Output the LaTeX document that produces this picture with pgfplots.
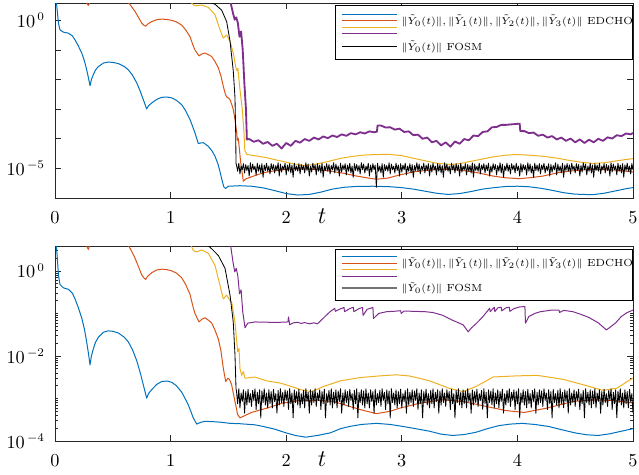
\documentclass[border=0pt]{standalone}
\usepackage{pgfplots}
\pgfplotsset{compat=1.18}
\definecolor{cB}{rgb}{0,0.447,0.741}
\definecolor{cO}{rgb}{0.850,0.325,0.098}
\definecolor{cY}{rgb}{0.929,0.694,0.125}
\definecolor{cP}{rgb}{0.494,0.184,0.556}
\begin{document}
\begin{tikzpicture}
\path[use as bounding box] (-33pt,-165.6pt) rectangle (350.4pt,118.8pt);
% ================= TOP =================
\begin{axis}[at={(0pt,0pt)}, anchor=south west,
    scale only axis, width=346.8pt, height=117pt,
    xmin=0, xmax=5, xtick={0,1,2,3,4,5}, ymode=log, ymin=1e-6, ymax=3.85,
    ytick={1e-5,1e-4,1e-3,1e-2,1e-1,1}, yticklabels={$10^{\,-5}$,,,,,$10^{\,0}$}, yminorticks=false,
    tick align=inside,
    axis line style={black!85, line width=0.5pt},
    tick style={black!85, line width=0.4pt},
    major tick length=3.6pt, minor tick length=1.8pt,
    tick label style={font=\fontsize{10.5}{12}\selectfont},
    xticklabel style={yshift=-5pt},
    yticklabel style={xshift=-2.5pt},
    xlabel={$t$},
    xlabel style={at={(rel axis cs:0.462,0)}, anchor=center, yshift=-11pt, font=\fontsize{14}{16}\selectfont},
    every axis plot/.append style={line width=0.6pt, line join=round}]
% blue
\addplot[cB] coordinates {(0,6.3)(0.015,3.16)(0.03,0.79)(0.043,0.48)(0.072,0.40)(0.115,0.37)(0.15,0.30)(0.173,0.22)(0.2,0.141)(0.231,0.079)(0.255,0.042)(0.274,0.0214)(0.29,0.0112)(0.303,0.0062)(0.315,0.010)(0.331,0.0145)(0.35,0.0209)(0.375,0.0275)(0.42,0.0363)(0.461,0.0389)(0.5,0.038)(0.548,0.0347)(0.6,0.0275)(0.634,0.0214)(0.67,0.0141)(0.707,0.00776)(0.74,0.0038)(0.764,0.00209)(0.793,0.00102)(0.81,0.00132)(0.837,0.00162)(0.88,0.00214)(0.923,0.00251)(0.97,0.00257)(1.01,0.0024)(1.05,0.002)(1.096,0.00141)
(1.13,8.9e-4)(1.168,4.5e-4)(1.211,1.58e-4)(1.24,6.9e-5)(1.26,7.2e-5)(1.283,7.4e-5)(1.326,5.6e-5)(1.36,3.8e-5)(1.384,2.57e-5)(1.41,1.41e-5)(1.427,7.9e-6)(1.445,4.0e-6)(1.46,2.4e-6)(1.475,2.1e-6)(1.5,2.5e-6)(1.6,2.6e-6)(1.7,2.5e-6)(1.8,2.2e-6)(1.9,1.78e-6)(2.0,1.41e-6)(2.1,1.26e-6)(2.2,1.32e-6)(2.3,1.58e-6)(2.4,2.0e-6)(2.5,2.3e-6)(2.6,2.45e-6)(2.75,2.5e-6)(2.9,2.4e-6)(3.0,2.24e-6)(3.1,2.0e-6)(3.2,1.7e-6)(3.3,1.45e-6)(3.4,1.32e-6)(3.5,1.41e-6)(3.6,1.66e-6)(3.7,2.0e-6)(3.8,2.24e-6)(3.9,2.45e-6)(4.0,2.5e-6)(4.1,2.4e-6)(4.2,2.14e-6)(4.3,1.82e-6)(4.4,1.51e-6)(4.5,1.35e-6)(4.65,1.29e-6)(4.75,1.45e-6)(4.85,1.74e-6)(4.95,2.1e-6)(5.0,2.24e-6)};
% orange
\addplot[cO] coordinates {(0,31.6)(0.2,7.9)(0.26,4.5)(0.288,3.2)(0.31,4.5)(0.36,7.1)(0.5,8.0)(0.6,5.6)(0.634,4.0)(0.66,3.0)(0.692,2.0)(0.72,1.3)(0.75,0.81)(0.77,0.68)(0.785,0.63)(0.8,0.74)(0.837,0.91)(0.88,1.05)(0.923,1.10)(0.97,1.07)(1.01,1.0)(1.05,0.89)(1.096,0.69)(1.13,0.48)(1.168,0.28)(1.195,0.14)(1.211,0.10)(1.246,0.063)(1.27,0.073)(1.298,0.079)(1.325,0.07)(1.355,0.06)(1.385,0.04)(1.413,0.025)(1.435,0.0135)
(1.456,0.0059)(1.475,0.0031)(1.485,0.0026)(1.5,0.0024)(1.514,0.0021)(1.53,0.0014)(1.542,9.8e-4)(1.557,4.5e-4)(1.572,1.6e-4)(1.577,8.9e-5)(1.585,1.05e-4)(1.594,5.0e-5)(1.605,1.78e-5)(1.615,9.3e-6)(1.629,3.7e-6)(1.65,4.4e-6)(1.7,5.2e-6)(1.8,7.1e-6)(1.9,8.3e-6)(2.0,9.3e-6)(2.1,9.8e-6)(2.2,9.5e-6)(2.3,8.9e-6)(2.4,7.9e-6)(2.5,6.8e-6)(2.6,5.6e-6)(2.7,4.8e-6)(2.78,4.3e-6)(2.88,4.7e-6)(2.98,6.0e-6)(3.1,7.6e-6)(3.2,8.5e-6)(3.3,9.1e-6)(3.42,9.3e-6)(3.55,8.3e-6)(3.65,7.2e-6)(3.79,5.5e-6)(3.9,4.8e-6)(4.02,4.5e-6)(4.12,4.9e-6)(4.22,5.5e-6)(4.35,7.1e-6)(4.45,8.1e-6)(4.6,9.1e-6)(4.68,9.3e-6)(4.85,8.7e-6)(5.0,7.6e-6)};
% yellow
\addplot[cY] coordinates {(0,100)(1.1,10)(1.168,4.5)(1.197,3.3)(1.226,3.1)(1.269,3.3)(1.326,2.75)(1.384,1.55)(1.427,0.48)(1.456,0.25)(1.485,0.32)(1.514,0.195)(1.542,0.079)(1.565,0.025)(1.575,0.02)(1.582,0.024)(1.6,0.0046)(1.62,0.001)(1.635,1.6e-4)(1.642,4.0e-5)(1.66,2.95e-5)(1.75,2.6e-5)(1.83,2.3e-5)(1.92,1.9e-5)(2.0,1.62e-5)(2.08,1.38e-5)(2.15,1.26e-5)(2.22,1.32e-5)(2.29,1.48e-5)(2.38,1.78e-5)(2.47,2.19e-5)(2.55,2.45e-5)(2.64,2.75e-5)(2.72,2.88e-5)(2.81,2.95e-5)(2.9,2.95e-5)(3.0,2.7e-5)(3.1,2.2e-5)(3.21,1.78e-5)(3.3,1.5e-5)(3.42,1.35e-5)(3.5,1.45e-5)(3.56,1.62e-5)(3.65,1.9e-5)(3.79,2.45e-5)(3.9,2.8e-5)(3.99,2.95e-5)(4.1,2.8e-5)(4.22,2.57e-5)(4.35,2.2e-5)(4.45,1.86e-5)(4.55,1.62e-5)(4.65,1.48e-5)(4.75,1.55e-5)(4.85,1.78e-5)(4.92,1.95e-5)(5.0,2.14e-5)};
% purple
\addplot[cP, line width=1.1pt] coordinates {(0,100)(1.4,20)(1.5,5)(1.52,3.8)(1.54,1.74)(1.555,1.05)(1.568,1.26)(1.582,0.81)(1.596,0.28)(1.61,0.42)(1.624,0.10)(1.638,7.8e-3)(1.652,9.8e-4)(1.66,9.5e-5)
(1.68,9.8e-5)(1.72,7.9e-5)(1.76,8.9e-5)(1.80,6.8e-5)(1.84,7.8e-5)(1.88,5.8e-5)(1.92,6.8e-5)(1.96,4.7e-5)(2.00,7.2e-5)(2.04,5.8e-5)(2.08,8.5e-5)(2.12,7.4e-5)(2.16,9.8e-5)(2.20,8.5e-5)(2.24,1.1e-4)(2.28,9.5e-5)(2.32,1.2e-4)(2.36,1.05e-4)(2.40,1.29e-4)(2.44,1.15e-4)(2.48,1.41e-4)(2.52,1.26e-4)(2.56,1.55e-4)(2.60,1.41e-4)(2.64,1.66e-4)(2.68,1.51e-4)(2.72,1.78e-4)(2.76,1.66e-4)(2.785,1.74e-4)(2.79,2.8e-4)(2.82,2.8e-4)(2.86,2.4e-4)(2.90,2.45e-4)(2.94,2.04e-4)(2.98,2.2e-4)(3.02,1.7e-4)(3.06,1.78e-4)(3.10,1.32e-4)(3.14,1.38e-4)(3.18,1.0e-4)(3.22,1.1e-4)(3.26,7.6e-5)(3.30,8.5e-5)(3.34,6.0e-5)(3.38,7.6e-5)(3.42,5.4e-5)(3.46,8.1e-5)(3.50,6.8e-5)(3.54,9.8e-5)(3.58,8.9e-5)(3.62,1.29e-4)(3.66,1.23e-4)(3.70,1.7e-4)(3.74,1.78e-4)(3.78,2.45e-4)(3.82,2.5e-4)(3.86,2.95e-4)(3.90,2.95e-4)(3.96,3.1e-4)(4.02,3.24e-4)(4.025,1.82e-4)(4.06,1.82e-4)(4.10,1.55e-4)(4.14,1.62e-4)(4.18,1.26e-4)(4.22,1.38e-4)(4.26,1.1e-4)(4.30,1.23e-4)(4.34,9.5e-5)(4.38,1.1e-4)(4.42,8.5e-5)(4.46,1.02e-4)(4.50,7.6e-5)(4.54,9.5e-5)(4.58,7.2e-5)(4.62,9.3e-5)(4.66,7.6e-5)(4.70,1.0e-4)(4.74,8.5e-5)(4.78,1.12e-4)(4.82,1.02e-4)(4.86,1.32e-4)(4.90,1.23e-4)(4.94,1.51e-4)(4.98,1.41e-4)(5.0,1.58e-4)};
% black FOSM
\addplot[black, line width=0.5pt] coordinates {(0,1000)(1.0,30)(1.2,8)(1.283,4.9)(1.384,3.5)(1.442,2.2)(1.485,0.9)(1.514,0.2)(1.542,0.02)(1.557,0.0025)(1.563,1.6e-4)(1.566,1.5e-5)
(1.57,1.3e-5)(1.58,8e-6)(1.59,1.5e-5)(1.60,6.5e-6)(1.61,1.2e-5)(1.62,9e-6)(1.63,1.45e-5)(1.64,7e-6)(1.65,1.35e-5)(1.66,8.5e-6)(1.67,1.25e-5)(1.68,5.5e-6)(1.69,1.55e-5)(1.70,7.5e-6)(1.71,1.4e-5)(1.72,9e-6)(1.73,1.2e-5)(1.74,6e-6)(1.75,1.5e-5)(1.76,8e-6)(1.77,1.3e-5)(1.78,7e-6)(1.79,1.45e-5)(1.80,5e-6)
(1.81,1.3e-5)(1.82,8.5e-6)(1.83,1.5e-5)(1.84,8e-6)(1.85,1.2e-5)(1.86,6.5e-6)(1.87,1.45e-5)(1.88,9e-6)(1.89,1.35e-5)(1.90,7e-6)(1.91,1.25e-5)(1.92,8.5e-6)(1.93,1.55e-5)(1.94,5.5e-6)(1.95,1.4e-5)(1.96,7.5e-6)(1.97,1.2e-5)(1.98,9e-6)(1.99,1.5e-5)(2.00,6e-6)(2.01,1.3e-5)(2.02,8e-6)(2.03,1.45e-5)(2.04,7e-6)
(2.05,1.3e-5)(2.06,5e-6)(2.07,1.5e-5)(2.08,8.5e-6)(2.09,1.2e-5)(2.10,8e-6)(2.11,1.45e-5)(2.12,6.5e-6)(2.13,1.35e-5)(2.14,9e-6)(2.15,1.25e-5)(2.16,7e-6)(2.17,1.55e-5)(2.18,8.5e-6)(2.19,1.4e-5)(2.20,5.5e-6)(2.21,1.2e-5)(2.22,7.5e-6)(2.23,1.5e-5)(2.24,9e-6)(2.25,1.3e-5)(2.26,6e-6)(2.27,1.45e-5)(2.28,8e-6)
(2.29,1.3e-5)(2.30,7e-6)(2.31,1.5e-5)(2.32,5e-6)(2.33,1.2e-5)(2.34,8.5e-6)(2.35,1.45e-5)(2.36,8e-6)(2.37,1.35e-5)(2.38,6.5e-6)(2.39,1.25e-5)(2.40,9e-6)(2.41,1.55e-5)(2.42,7e-6)(2.43,1.4e-5)(2.44,8.5e-6)(2.45,1.2e-5)(2.46,5.5e-6)(2.47,1.5e-5)(2.48,7.5e-6)(2.49,1.3e-5)(2.50,9e-6)(2.51,1.45e-5)(2.52,6e-6)
(2.53,1.3e-5)(2.54,8e-6)(2.55,1.5e-5)(2.56,7e-6)(2.57,1.2e-5)(2.58,5e-6)(2.59,1.45e-5)(2.60,8.5e-6)(2.61,1.35e-5)(2.62,8e-6)(2.63,1.25e-5)(2.64,6.5e-6)(2.65,1.55e-5)(2.66,9e-6)(2.67,1.4e-5)(2.68,7e-6)(2.69,1.2e-5)(2.70,8.5e-6)(2.71,1.5e-5)(2.72,5.5e-6)(2.73,1.3e-5)(2.74,7.5e-6)(2.75,1.45e-5)(2.76,9e-6)
(2.77,1.3e-5)(2.78,2.3e-6)(2.79,1.5e-5)(2.80,8e-6)(2.81,1.2e-5)(2.82,7e-6)(2.83,1.45e-5)(2.84,5e-6)(2.85,1.35e-5)(2.86,8.5e-6)(2.87,1.25e-5)(2.88,8e-6)(2.89,1.55e-5)(2.90,6.5e-6)(2.91,1.4e-5)(2.92,9e-6)(2.93,1.2e-5)(2.94,7e-6)(2.95,1.5e-5)(2.96,8.5e-6)(2.97,1.3e-5)(2.98,5.5e-6)(2.99,1.45e-5)(3.00,7.5e-6)
(3.01,1.3e-5)(3.02,9e-6)(3.03,1.5e-5)(3.04,6e-6)(3.05,1.2e-5)(3.06,8e-6)(3.07,1.45e-5)(3.08,7e-6)(3.09,1.35e-5)(3.10,5e-6)(3.11,1.25e-5)(3.12,8.5e-6)(3.13,1.55e-5)(3.14,8e-6)(3.15,1.4e-5)(3.16,6.5e-6)(3.17,1.2e-5)(3.18,9e-6)(3.19,1.5e-5)(3.20,7e-6)(3.21,1.3e-5)(3.22,8.5e-6)(3.23,1.45e-5)(3.24,5.5e-6)
(3.25,1.3e-5)(3.26,7.5e-6)(3.27,1.5e-5)(3.28,9e-6)(3.29,1.2e-5)(3.30,6e-6)(3.31,1.45e-5)(3.32,8e-6)(3.33,1.35e-5)(3.34,7e-6)(3.35,1.25e-5)(3.36,5e-6)(3.37,1.55e-5)(3.38,8.5e-6)(3.39,1.4e-5)(3.40,8e-6)(3.41,1.2e-5)(3.42,6.5e-6)(3.43,1.5e-5)(3.44,9e-6)(3.45,1.3e-5)(3.46,7e-6)(3.47,1.45e-5)(3.48,8.5e-6)
(3.49,1.3e-5)(3.50,5.5e-6)(3.51,1.5e-5)(3.52,7.5e-6)(3.53,1.2e-5)(3.54,9e-6)(3.55,1.45e-5)(3.56,6e-6)(3.57,1.35e-5)(3.58,8e-6)(3.59,1.25e-5)(3.60,7e-6)(3.61,1.55e-5)(3.62,5e-6)(3.63,1.4e-5)(3.64,8.5e-6)(3.65,1.2e-5)(3.66,8e-6)(3.67,1.5e-5)(3.68,6.5e-6)(3.69,1.3e-5)(3.70,9e-6)(3.71,1.45e-5)(3.72,7e-6)
(3.73,1.3e-5)(3.74,8.5e-6)(3.75,1.5e-5)(3.76,5.5e-6)(3.77,1.2e-5)(3.78,7.5e-6)(3.79,1.45e-5)(3.80,9e-6)(3.81,1.35e-5)(3.82,6e-6)(3.83,1.25e-5)(3.84,8e-6)(3.85,1.55e-5)(3.86,7e-6)(3.87,1.4e-5)(3.88,5e-6)(3.89,1.2e-5)(3.90,8.5e-6)(3.91,1.5e-5)(3.92,8e-6)(3.93,1.3e-5)(3.94,6.5e-6)(3.95,1.45e-5)(3.96,9e-6)
(3.97,1.3e-5)(3.98,7e-6)(3.99,1.5e-5)(4.00,8.5e-6)(4.01,1.2e-5)(4.02,5.5e-6)(4.03,1.45e-5)(4.04,7.5e-6)(4.05,1.35e-5)(4.06,9e-6)(4.07,1.25e-5)(4.08,6e-6)(4.09,1.55e-5)(4.10,8e-6)(4.11,1.4e-5)(4.12,7e-6)(4.13,1.2e-5)(4.14,5e-6)(4.15,1.5e-5)(4.16,8.5e-6)(4.17,1.3e-5)(4.18,8e-6)(4.19,1.45e-5)(4.20,6.5e-6)
(4.21,1.3e-5)(4.22,9e-6)(4.23,1.5e-5)(4.24,7e-6)(4.25,1.2e-5)(4.26,8.5e-6)(4.27,1.45e-5)(4.28,5.5e-6)(4.29,1.35e-5)(4.30,7.5e-6)(4.31,1.25e-5)(4.32,9e-6)(4.33,1.55e-5)(4.34,6e-6)(4.35,1.4e-5)(4.36,8e-6)(4.37,1.2e-5)(4.38,7e-6)(4.39,1.5e-5)(4.40,5e-6)(4.41,1.3e-5)(4.42,8.5e-6)(4.43,1.45e-5)(4.44,8e-6)
(4.45,1.3e-5)(4.46,6.5e-6)(4.47,1.5e-5)(4.48,9e-6)(4.49,1.2e-5)(4.50,7e-6)(4.51,1.45e-5)(4.52,8.5e-6)(4.53,1.35e-5)(4.54,5.5e-6)(4.55,1.25e-5)(4.56,7.5e-6)(4.57,1.55e-5)(4.58,9e-6)(4.59,1.4e-5)(4.60,6e-6)(4.61,1.2e-5)(4.62,8e-6)(4.63,1.5e-5)(4.64,7e-6)(4.65,1.3e-5)(4.66,5e-6)(4.67,1.45e-5)(4.68,8.5e-6)
(4.69,1.3e-5)(4.70,8e-6)(4.71,1.5e-5)(4.72,6.5e-6)(4.73,1.2e-5)(4.74,9e-6)(4.75,1.45e-5)(4.76,7e-6)(4.77,1.35e-5)(4.78,8.5e-6)(4.79,1.25e-5)(4.80,5.5e-6)(4.81,1.55e-5)(4.82,7.5e-6)(4.83,1.4e-5)(4.84,9e-6)(4.85,1.2e-5)(4.86,6e-6)(4.87,1.5e-5)(4.88,8e-6)(4.89,1.3e-5)(4.90,7e-6)(4.91,1.45e-5)(4.92,5e-6)
(4.93,1.3e-5)(4.94,8.5e-6)(4.95,1.5e-5)(4.96,8e-6)(4.97,1.2e-5)(4.98,6.5e-6)(4.99,1.45e-5)(5.00,9e-6)};
% legend (top)
\draw[black, line width=0.4pt, fill=white] (rel axis cs:0.4844,0.9897) rectangle (rel axis cs:0.998,0.7128);
\draw[cB, line width=0.6pt] (rel axis cs:0.496,0.9436) -- (rel axis cs:0.5912,0.9436);
\draw[cO, line width=0.6pt] (rel axis cs:0.496,0.9097) -- (rel axis cs:0.5912,0.9097);
\draw[cY, line width=0.6pt] (rel axis cs:0.496,0.8754) -- (rel axis cs:0.5912,0.8754);
\draw[cP, line width=0.6pt] (rel axis cs:0.496,0.8446) -- (rel axis cs:0.5912,0.8446);
\draw[black, line width=0.6pt] (rel axis cs:0.496,0.7759) -- (rel axis cs:0.5912,0.7759);
\node[anchor=west, inner sep=0pt, font=\fontsize{6.2}{7.5}\selectfont] at (rel axis cs:0.5986,0.9077) {$\|\tilde{Y}_0(t)\|,\|\tilde{Y}_1(t)\|,\|\tilde{Y}_2(t)\|,\|\tilde{Y}_3(t)\|$ EDCHO};
\node[anchor=west, inner sep=0pt, font=\fontsize{6.2}{7.5}\selectfont] at (rel axis cs:0.5986,0.7759) {$\|\tilde{Y}_0(t)\|$ FOSM};
\end{axis}
% ================= BOTTOM =================
\begin{axis}[at={(0pt,-145.8pt)}, anchor=south west,
    scale only axis, width=346.8pt, height=117pt,
    xmin=0, xmax=5, xtick={0,1,2,3,4,5}, ymode=log, ymin=1e-4, ymax=3.85,
    ytick={1e-4,1e-2,1}, yticklabels={$10^{\,-4}$,$10^{\,-2}$,$10^{\,0}$},
    minor ytick={2e-4,3e-4,4e-4,5e-4,6e-4,7e-4,8e-4,9e-4,1e-3,2e-3,3e-3,4e-3,5e-3,6e-3,7e-3,8e-3,9e-3,2e-2,3e-2,4e-2,5e-2,6e-2,7e-2,8e-2,9e-2,1e-1,2e-1,3e-1,4e-1,5e-1,6e-1,7e-1,8e-1,9e-1,2,3},
    tick align=inside,
    axis line style={black!85, line width=0.5pt},
    tick style={black!85, line width=0.4pt},
    major tick length=3.6pt, minor tick length=1.8pt,
    tick label style={font=\fontsize{10.5}{12}\selectfont},
    xticklabel style={yshift=-5pt},
    yticklabel style={xshift=-2.5pt},
    xlabel={$t$},
    xlabel style={at={(rel axis cs:0.462,0)}, anchor=center, yshift=-11pt, font=\fontsize{14}{16}\selectfont},
    every axis plot/.append style={line width=0.6pt, line join=round}]
% blue
\addplot[cB] coordinates {(0,6.3)(0.015,3.16)(0.03,0.79)(0.043,0.48)(0.072,0.40)(0.115,0.37)(0.15,0.30)(0.173,0.22)(0.2,0.141)(0.231,0.079)(0.255,0.042)(0.274,0.0214)(0.29,0.0112)(0.303,0.0062)(0.315,0.010)(0.331,0.0145)(0.35,0.0209)(0.375,0.0275)(0.42,0.0363)(0.461,0.0389)(0.5,0.038)(0.548,0.0347)(0.6,0.0275)(0.634,0.0214)(0.67,0.0141)(0.707,0.00776)(0.74,0.0038)(0.764,0.00209)(0.793,0.00102)(0.81,0.00132)(0.837,0.00162)(0.88,0.00214)(0.923,0.00251)(0.97,0.00257)(1.01,0.0024)(1.05,0.002)(1.096,0.00141)
(1.125,1.0e-3)(1.153,7.1e-4)(1.18,4.6e-4)(1.196,3.5e-4)(1.226,2.5e-4)(1.26,2.75e-4)(1.298,2.9e-4)(1.37,2.85e-4)(1.442,2.75e-4)(1.514,2.6e-4)(1.6,2.55e-4)(1.73,2.4e-4)(1.8,2.2e-4)(1.9,1.9e-4)(2.0,1.55e-4)(2.08,1.35e-4)(2.17,1.23e-4)(2.27,1.35e-4)(2.38,1.55e-4)(2.47,1.95e-4)(2.55,2.2e-4)(2.65,2.45e-4)(2.78,2.6e-4)(2.9,2.45e-4)(3.01,2.2e-4)(3.12,1.95e-4)(3.24,1.7e-4)(3.34,1.45e-4)(3.44,1.35e-4)(3.54,1.42e-4)(3.64,1.6e-4)(3.74,1.95e-4)(3.84,2.3e-4)(3.94,2.5e-4)(4.04,2.6e-4)(4.15,2.45e-4)(4.27,2.2e-4)(4.38,1.85e-4)(4.5,1.55e-4)(4.6,1.4e-4)(4.7,1.35e-4)(4.8,1.48e-4)(4.9,1.7e-4)(5.0,1.95e-4)};
% orange
\addplot[cO] coordinates {(0,31.6)(0.2,7.9)(0.26,4.5)(0.288,3.2)(0.31,4.5)(0.36,7.1)(0.5,8.0)(0.6,5.6)(0.634,4.0)(0.66,3.0)(0.692,2.0)(0.72,1.3)(0.75,0.81)(0.77,0.68)(0.785,0.63)(0.8,0.74)(0.837,0.91)(0.88,1.05)(0.923,1.10)(0.97,1.07)(1.01,1.0)(1.05,0.89)(1.096,0.69)(1.13,0.48)(1.168,0.28)(1.195,0.14)(1.211,0.10)(1.246,0.063)(1.27,0.073)(1.298,0.079)(1.325,0.07)(1.355,0.06)(1.385,0.04)(1.413,0.025)(1.435,0.0135)
(1.456,0.0051)(1.477,0.0025)(1.495,0.003)(1.51,0.0028)(1.528,0.0021)(1.557,8.5e-4)(1.58,4.2e-4)(1.6,3.5e-4)(1.7,4.7e-4)(1.83,5.9e-4)(1.97,7.8e-4)(2.12,8.9e-4)(2.27,9.1e-4)(2.41,8.5e-4)(2.55,6.5e-4)(2.65,5.4e-4)(2.78,4.4e-4)(2.9,5.0e-4)(2.98,5.9e-4)(3.16,7.8e-4)(3.36,9.3e-4)(3.53,8.5e-4)(3.73,6.5e-4)(3.9,5.2e-4)(4.06,4.7e-4)(4.25,5.9e-4)(4.48,8.5e-4)(4.66,9.3e-4)(4.84,8.9e-4)(5.0,7.8e-4)};
% yellow
\addplot[cY] coordinates {(0,100)(1.1,10)(1.168,4.5)(1.197,3.0)(1.226,2.8)(1.269,3.1)(1.326,2.6)(1.384,1.35)(1.427,0.46)(1.456,0.22)(1.485,0.27)(1.514,0.2)(1.528,0.186)(1.557,0.063)(1.58,0.0126)(1.592,0.015)(1.6,0.0051)(1.615,0.0035)(1.629,0.0043)(1.644,0.003)(1.73,0.0032)(1.83,0.0026)(1.95,0.0023)(2.05,0.0019)(2.13,0.0016)(2.22,0.00145)(2.32,0.0019)(2.47,0.0026)(2.64,0.0031)(2.81,0.0034)(2.95,0.0036)(3.06,0.0034)(3.15,0.003)(3.24,0.0026)(3.33,0.0021)(3.41,0.00174)(3.53,0.00145)(3.64,0.0019)(3.72,0.0025)(3.79,0.0032)(3.99,0.0034)(4.17,0.0035)(4.3,0.0031)(4.4,0.0028)(4.57,0.0021)(4.74,0.00155)(4.86,0.00174)(4.95,0.0025)(5.0,0.003)};
% purple
\addplot[cP] coordinates {(0,100)(1.4,20)(1.5,5)(1.52,3.8)(1.54,1.6)(1.555,0.95)(1.568,1.15)(1.582,0.75)(1.596,0.29)(1.61,0.36)(1.624,0.11)(1.644,0.046)(1.667,0.059)
(1.73,0.063)(1.85,0.062)(1.95,0.062)(2.015,0.063)(2.02,0.083)(2.03,0.054)(2.06,0.06)(2.1,0.062)(2.13,0.058)(2.16,0.061)(2.2,0.057)(2.24,0.06)(2.27,0.057)(2.3,0.068)(2.34,0.087)(2.38,0.11)(2.42,0.132)(2.425,0.112)(2.46,0.125)(2.5,0.138)(2.505,0.11)(2.55,0.13)(2.58,0.14)(2.585,0.11)(2.63,0.13)(2.66,0.138)(2.665,0.09)(2.7,0.125)(2.75,0.138)(2.755,0.076)(2.8,0.1)(2.87,0.11)(2.93,0.112)(2.99,0.116)(2.995,0.1)(3.02,0.114)(3.1,0.112)(3.2,0.11)(3.27,0.105)(3.35,0.091)(3.44,0.069)(3.53,0.054)(3.575,0.037)(3.6,0.045)(3.65,0.06)(3.7,0.083)(3.76,0.132)(3.765,0.11)(3.8,0.14)(3.805,0.11)(3.83,0.135)(3.86,0.14)(3.865,0.115)(3.9,0.135)(3.93,0.14)(3.935,0.112)(3.97,0.13)(4.02,0.142)(4.065,0.145)(4.07,0.059)(4.1,0.085)(4.15,0.1)(4.2,0.11)(4.3,0.12)(4.36,0.12)(4.365,0.105)(4.4,0.118)(4.48,0.11)(4.55,0.095)(4.62,0.08)(4.7,0.06)(4.77,0.041)(4.8,0.047)(4.85,0.06)(4.9,0.085)(4.95,0.105)(5.0,0.12)};
% black FOSM
\addplot[black, line width=0.5pt] coordinates {(0,1000)(1.0,30)(1.2,8)(1.283,4.9)(1.356,3.3)(1.413,2.3)(1.471,1.15)(1.514,0.27)(1.542,0.063)(1.557,0.0105)(1.566,1.7e-3)
(1.57,1.5e-3)(1.58,7.5e-4)(1.59,1.7e-3)(1.60,6e-4)(1.61,1.35e-3)(1.62,8.5e-4)(1.63,1.6e-3)(1.64,4.5e-4)(1.65,1.45e-3)(1.66,7e-4)(1.67,1.65e-3)(1.68,8e-4)(1.69,1.3e-3)(1.70,6.5e-4)(1.71,1.55e-3)(1.72,9e-4)(1.73,1.7e-3)(1.74,5.5e-4)(1.75,1.4e-3)(1.76,7.5e-4)(1.77,1.6e-3)(1.78,3.5e-4)(1.79,1.5e-3)(1.80,8e-4)
(1.81,1.7e-3)(1.82,7e-4)(1.83,1.35e-3)(1.84,6e-4)(1.85,1.6e-3)(1.86,7.5e-4)(1.87,1.45e-3)(1.88,6e-4)(1.89,1.65e-3)(1.90,8.5e-4)(1.91,1.3e-3)(1.92,4.5e-4)(1.93,1.55e-3)(1.94,7e-4)(1.95,1.7e-3)(1.96,8e-4)(1.97,1.4e-3)(1.98,6.5e-4)(1.99,1.6e-3)(2.00,9e-4)(2.01,1.5e-3)(2.02,5.5e-4)(2.03,1.7e-3)(2.04,7.5e-4)
(2.05,1.35e-3)(2.06,3.5e-4)(2.07,1.6e-3)(2.08,8e-4)(2.09,1.45e-3)(2.10,7e-4)(2.11,1.65e-3)(2.12,6e-4)(2.13,1.3e-3)(2.14,7.5e-4)(2.15,1.55e-3)(2.16,6e-4)(2.17,1.7e-3)(2.18,8.5e-4)(2.19,1.4e-3)(2.20,4.5e-4)(2.21,1.6e-3)(2.22,7e-4)(2.23,1.5e-3)(2.24,8e-4)(2.25,1.7e-3)(2.26,6.5e-4)(2.27,1.35e-3)(2.28,9e-4)
(2.29,1.6e-3)(2.30,5.5e-4)(2.31,1.45e-3)(2.32,7.5e-4)(2.33,1.65e-3)(2.34,3.5e-4)(2.35,1.3e-3)(2.36,8e-4)(2.37,1.55e-3)(2.38,7e-4)(2.39,1.7e-3)(2.40,6e-4)(2.41,1.4e-3)(2.42,7.5e-4)(2.43,1.6e-3)(2.44,6e-4)(2.45,1.5e-3)(2.46,8.5e-4)(2.47,1.7e-3)(2.48,4.5e-4)(2.49,1.35e-3)(2.50,7e-4)(2.51,1.6e-3)(2.52,8e-4)
(2.53,1.45e-3)(2.54,6.5e-4)(2.55,1.65e-3)(2.56,9e-4)(2.57,1.3e-3)(2.58,5.5e-4)(2.59,1.55e-3)(2.60,7.5e-4)(2.61,1.7e-3)(2.62,3.5e-4)(2.63,1.4e-3)(2.64,8e-4)(2.65,1.6e-3)(2.66,7e-4)(2.67,1.5e-3)(2.68,6e-4)(2.69,1.7e-3)(2.70,7.5e-4)(2.71,1.35e-3)(2.72,6e-4)(2.73,1.6e-3)(2.74,8.5e-4)(2.75,1.45e-3)(2.76,4.5e-4)
(2.77,1.65e-3)(2.78,7e-4)(2.79,1.3e-3)(2.80,8e-4)(2.81,1.55e-3)(2.82,6.5e-4)(2.83,1.7e-3)(2.84,9e-4)(2.85,1.4e-3)(2.86,5.5e-4)(2.87,1.6e-3)(2.88,7.5e-4)(2.89,1.5e-3)(2.90,3.5e-4)(2.91,1.7e-3)(2.92,8e-4)(2.93,1.35e-3)(2.94,7e-4)(2.95,1.6e-3)(2.96,6e-4)(2.97,1.45e-3)(2.98,7.5e-4)(2.99,1.65e-3)(3.00,6e-4)
(3.01,1.3e-3)(3.02,8.5e-4)(3.03,1.55e-3)(3.04,4.5e-4)(3.05,1.7e-3)(3.06,7e-4)(3.07,1.4e-3)(3.08,8e-4)(3.09,1.6e-3)(3.10,6.5e-4)(3.11,1.5e-3)(3.12,9e-4)(3.13,1.7e-3)(3.14,5.5e-4)(3.15,1.35e-3)(3.16,7.5e-4)(3.17,1.6e-3)(3.18,3.5e-4)(3.19,1.45e-3)(3.20,8e-4)(3.21,1.65e-3)(3.22,7e-4)(3.23,1.3e-3)(3.24,6e-4)
(3.25,1.55e-3)(3.26,7.5e-4)(3.27,1.7e-3)(3.28,6e-4)(3.29,1.4e-3)(3.30,8.5e-4)(3.31,1.6e-3)(3.32,4.5e-4)(3.33,1.5e-3)(3.34,7e-4)(3.35,1.7e-3)(3.36,8e-4)(3.37,1.35e-3)(3.38,6.5e-4)(3.39,1.6e-3)(3.40,9e-4)(3.41,1.45e-3)(3.42,5.5e-4)(3.43,1.65e-3)(3.44,7.5e-4)(3.45,1.3e-3)(3.46,3.5e-4)(3.47,1.55e-3)(3.48,8e-4)
(3.49,1.7e-3)(3.50,7e-4)(3.51,1.4e-3)(3.52,6e-4)(3.53,1.6e-3)(3.54,7.5e-4)(3.55,1.5e-3)(3.56,6e-4)(3.57,1.7e-3)(3.58,8.5e-4)(3.59,1.35e-3)(3.60,4.5e-4)(3.61,1.6e-3)(3.62,7e-4)(3.63,1.45e-3)(3.64,8e-4)(3.65,1.65e-3)(3.66,6.5e-4)(3.67,1.3e-3)(3.68,9e-4)(3.69,1.55e-3)(3.70,5.5e-4)(3.71,1.7e-3)(3.72,7.5e-4)
(3.73,1.4e-3)(3.74,3.5e-4)(3.75,1.6e-3)(3.76,8e-4)(3.77,1.5e-3)(3.78,7e-4)(3.79,1.7e-3)(3.80,6e-4)(3.81,1.35e-3)(3.82,7.5e-4)(3.83,1.6e-3)(3.84,6e-4)(3.85,1.45e-3)(3.86,8.5e-4)(3.87,1.65e-3)(3.88,4.5e-4)(3.89,1.3e-3)(3.90,7e-4)(3.91,1.55e-3)(3.92,8e-4)(3.93,1.7e-3)(3.94,6.5e-4)(3.95,1.4e-3)(3.96,9e-4)
(3.97,1.6e-3)(3.98,5.5e-4)(3.99,1.5e-3)(4.00,7.5e-4)(4.01,1.7e-3)(4.02,3.5e-4)(4.03,1.35e-3)(4.04,8e-4)(4.05,1.6e-3)(4.06,7e-4)(4.07,1.45e-3)(4.08,6e-4)(4.09,1.65e-3)(4.10,7.5e-4)(4.11,1.3e-3)(4.12,6e-4)(4.13,1.55e-3)(4.14,8.5e-4)(4.15,1.7e-3)(4.16,4.5e-4)(4.17,1.4e-3)(4.18,7e-4)(4.19,1.6e-3)(4.20,8e-4)
(4.21,1.5e-3)(4.22,6.5e-4)(4.23,1.7e-3)(4.24,9e-4)(4.25,1.35e-3)(4.26,5.5e-4)(4.27,1.6e-3)(4.28,7.5e-4)(4.29,1.45e-3)(4.30,3.5e-4)(4.31,1.65e-3)(4.32,8e-4)(4.33,1.3e-3)(4.34,7e-4)(4.35,1.55e-3)(4.36,6e-4)(4.37,1.7e-3)(4.38,7.5e-4)(4.39,1.4e-3)(4.40,6e-4)(4.41,1.6e-3)(4.42,8.5e-4)(4.43,1.5e-3)(4.44,4.5e-4)
(4.45,1.7e-3)(4.46,7e-4)(4.47,1.35e-3)(4.48,8e-4)(4.49,1.6e-3)(4.50,6.5e-4)(4.51,1.45e-3)(4.52,9e-4)(4.53,1.65e-3)(4.54,5.5e-4)(4.55,1.3e-3)(4.56,7.5e-4)(4.57,1.55e-3)(4.58,3.5e-4)(4.59,1.7e-3)(4.60,8e-4)(4.61,1.4e-3)(4.62,7e-4)(4.63,1.6e-3)(4.64,6e-4)(4.65,1.5e-3)(4.66,7.5e-4)(4.67,1.7e-3)(4.68,6e-4)
(4.69,1.35e-3)(4.70,8.5e-4)(4.71,1.6e-3)(4.72,4.5e-4)(4.73,1.45e-3)(4.74,7e-4)(4.75,1.65e-3)(4.76,8e-4)(4.77,1.3e-3)(4.78,6.5e-4)(4.79,1.55e-3)(4.80,9e-4)(4.81,1.7e-3)(4.82,5.5e-4)(4.83,1.4e-3)(4.84,7.5e-4)(4.85,1.6e-3)(4.86,3.5e-4)(4.87,1.5e-3)(4.88,8e-4)(4.89,1.7e-3)(4.90,7e-4)(4.91,1.35e-3)(4.92,6e-4)
(4.93,1.6e-3)(4.94,7.5e-4)(4.95,1.45e-3)(4.96,6e-4)(4.97,1.65e-3)(4.98,8.5e-4)(4.99,1.3e-3)(5.00,4.5e-4)};
% legend (bottom)
\draw[black, line width=0.4pt, fill=white] (rel axis cs:0.4844,0.9846) rectangle (rel axis cs:0.998,0.7231);
\draw[cB, line width=0.6pt] (rel axis cs:0.496,0.9451) -- (rel axis cs:0.5912,0.9451);
\draw[cO, line width=0.6pt] (rel axis cs:0.496,0.9113) -- (rel axis cs:0.5912,0.9113);
\draw[cY, line width=0.6pt] (rel axis cs:0.496,0.8805) -- (rel axis cs:0.5912,0.8805);
\draw[cP, line width=0.6pt] (rel axis cs:0.496,0.8426) -- (rel axis cs:0.5912,0.8426);
\draw[black!55, line width=1.1pt] (rel axis cs:0.496,0.7831) -- (rel axis cs:0.5912,0.7831);
\node[anchor=west, inner sep=0pt, font=\fontsize{6.2}{7.5}\selectfont] at (rel axis cs:0.5986,0.9113) {$\|\tilde{Y}_0(t)\|,\|\tilde{Y}_1(t)\|,\|\tilde{Y}_2(t)\|,\|\tilde{Y}_3(t)\|$ EDCHO};
\node[anchor=west, inner sep=0pt, font=\fontsize{6.2}{7.5}\selectfont] at (rel axis cs:0.5986,0.7831) {$\|\tilde{Y}_0(t)\|$ FOSM};
\end{axis}
\end{tikzpicture}
\end{document}
